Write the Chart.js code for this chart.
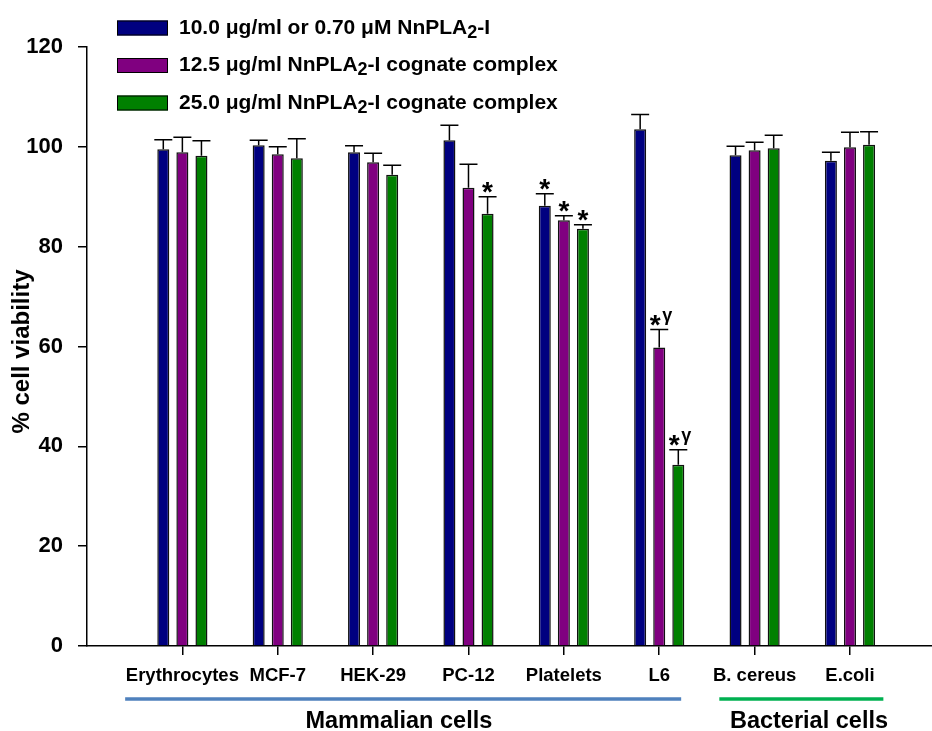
<!DOCTYPE html>
<html>
<head>
<meta charset="utf-8">
<script src="https://cdn.jsdelivr.net/npm/chart.js@4.4.1/dist/chart.umd.min.js"></script>
<style>
  html, body { margin: 0; padding: 0; background: #fff; }
  canvas { display: block; }
</style>
</head>
<body>
<canvas id="chart" width="932" height="731"></canvas>
<script>
// data
const categories = ['Erythrocytes', 'MCF-7', 'HEK-29', 'PC-12', 'Platelets', 'L6', 'B. cereus', 'E.coli'];
const seriesNames = [
  '10.0 μg/ml or 0.70 μM NnPLA₂-I',
  '12.5 μg/ml NnPLA₂-I cognate complex',
  '25.0 μg/ml NnPLA₂-I cognate complex'
];
const lowDose = [99.5, 100.3, 98.9, 101.3, 88.2, 103.5, 98.3, 97.2];
const lowDoseErr = [1.9, 1.0, 1.3, 3.0, 2.4, 3.0, 1.8, 1.7];
const midDose = [98.9, 98.5, 96.9, 91.8, 85.3, 59.8, 99.3, 99.9];
const midDoseErr = [3.0, 1.5, 1.8, 4.7, 0.9, 3.6, 1.6, 3.0];
const highDose = [98.2, 97.7, 94.4, 86.6, 83.6, 36.3, 99.7, 100.4];
const highDoseErr = [3.0, 3.9, 1.9, 3.4, 0.8, 3.0, 2.6, 2.6];
// significance marks
const lowDoseMarks = ['', '', '', '', '*', '', '', ''];
const midDoseMarks = ['', '', '', '', '*', '*γ', '', ''];
const highDoseMarks = ['', '', '', '*', '*', '*γ', '', ''];
const yTicks = [0, 20, 40, 60, 80, 100, 120];
const groupNames = ['Mammalian cells', 'Bacterial cells'];

const colors = ['#000080', '#800080', '#008000'];
const errs = [lowDoseErr, midDoseErr, highDoseErr];
const marks = [lowDoseMarks, midDoseMarks, highDoseMarks];
const FONT = '"Liberation Sans", Arial, sans-serif';

function toPoints(arr) {
  return arr.map(function(v, i) { return { x: i + 1, y: v }; });
}

// text with a subscript 2 (₂)
function drawRich(ctx, text, x, y, size) {
  const parts = text.split('₂');
  let cx = x;
  ctx.textAlign = 'left';
  ctx.textBaseline = 'middle';
  parts.forEach(function(p, i) {
    ctx.font = 'bold ' + size + 'px ' + FONT;
    ctx.fillText(p, cx, y);
    cx += ctx.measureText(p).width;
    if (i < parts.length - 1) {
      ctx.font = 'bold ' + Math.round(size * 0.85) + 'px ' + FONT;
      ctx.fillText('2', cx, y + 5);
      cx += ctx.measureText('2').width;
    }
  });
}

const extras = {
  id: 'extras',
  afterDatasetsDraw(chart) {
    const ctx = chart.ctx;
    const y = chart.scales.y;
    ctx.save();
    ctx.strokeStyle = '#000';
    ctx.fillStyle = '#000';
    ctx.lineWidth = 1.5;
    chart.data.datasets.forEach(function(ds, di) {
      const meta = chart.getDatasetMeta(di);
      meta.data.forEach(function(bar, j) {
        const v = ds.data[j].y;
        const top = y.getPixelForValue(v);
        const cap = y.getPixelForValue(v + errs[di][j]);
        ctx.beginPath();
        ctx.moveTo(bar.x, top);
        ctx.lineTo(bar.x, cap);
        ctx.moveTo(bar.x - 9, cap);
        ctx.lineTo(bar.x + 9, cap);
        ctx.stroke();
        const m = marks[di][j];
        if (m) {
          ctx.textAlign = 'center';
          ctx.textBaseline = 'alphabetic';
          ctx.font = 'bold 28px ' + FONT;
          if (m.length > 1) {
            ctx.fillText('*', bar.x - 4, cap + 4);
            ctx.textAlign = 'left';
            ctx.font = 'bold 18px ' + FONT;
            ctx.fillText(m.slice(1), bar.x + 3, cap - 9);
          } else {
            ctx.fillText('*', bar.x, cap + 4);
          }
        }
      });
    });
    ctx.restore();
  },
  afterDraw(chart) {
    const ctx = chart.ctx;
    const x = chart.scales.x;
    const area = chart.chartArea;
    ctx.save();
    // y axis title
    ctx.fillStyle = '#000';
    ctx.translate(22, (area.top + area.bottom) / 2 + 5);
    ctx.rotate(-Math.PI / 2);
    ctx.font = 'bold 24px ' + FONT;
    ctx.textAlign = 'center';
    ctx.textBaseline = 'middle';
    ctx.fillText('% cell viability', 0, 0);
    ctx.restore();

    // legend
    ctx.save();
    const rows = [28, 65.5, 103];
    seriesNames.forEach(function(name, i) {
      ctx.fillStyle = colors[i];
      ctx.fillRect(117, rows[i] - 7.5, 51, 15);
      ctx.strokeStyle = '#000';
      ctx.lineWidth = 1;
      ctx.strokeRect(117.5, rows[i] - 7, 50, 14);
      ctx.fillStyle = '#000';
      drawRich(ctx, name, 179, rows[i], 21);
    });
    ctx.restore();

    // cell group brackets
    ctx.save();
    const spans = [[0.40, 6.23], [6.63, 8.35]];
    const centers = [3.27, 7.57];
    const lineColors = ['#4f81bd', '#00b050'];
    groupNames.forEach(function(g, i) {
      ctx.strokeStyle = lineColors[i];
      ctx.lineWidth = 3.5;
      ctx.beginPath();
      ctx.moveTo(x.getPixelForValue(spans[i][0]), 699);
      ctx.lineTo(x.getPixelForValue(spans[i][1]), 699);
      ctx.stroke();
      ctx.fillStyle = '#000';
      ctx.font = 'bold 23.5px ' + FONT;
      ctx.textAlign = 'center';
      ctx.textBaseline = 'alphabetic';
      ctx.fillText(g, x.getPixelForValue(centers[i]), 728);
    });
    ctx.restore();
  }
};

new Chart(document.getElementById('chart'), {
  type: 'bar',
  data: {
    datasets: [
      { label: seriesNames[0], data: toPoints(lowDose), backgroundColor: colors[0] },
      { label: seriesNames[1], data: toPoints(midDose), backgroundColor: colors[1] },
      { label: seriesNames[2], data: toPoints(highDose), backgroundColor: colors[2] }
    ]
  },
  options: {
    responsive: false,
    animation: false,
    devicePixelRatio: 1,
    layout: { padding: { top: 47, right: 0, left: 0, bottom: 0 } },
    datasets: {
      bar: {
        borderColor: '#111',
        borderWidth: 1.5,
        categoryPercentage: 0.6,
        barPercentage: 0.63
      }
    },
    plugins: {
      legend: { display: false },
      tooltip: { enabled: false }
    },
    scales: {
      x: {
        type: 'linear',
        min: 0,
        max: 8.86,
        offset: false,
        afterBuildTicks: function(scale) {
          scale.ticks = categories.map(function(c, i) { return { value: i + 1 }; });
        },
        afterFit: function(scale) { scale.height = 85; },
        ticks: {
          callback: function(v) { return categories[v - 1]; },
          color: '#000',
          font: { family: FONT, size: 18.5, weight: 'bold' },
          padding: 10,
          maxRotation: 0,
          autoSkip: false
        },
        grid: { offset: false, drawOnChartArea: false, color: '#000', tickLength: 9, lineWidth: 1.5 },
        border: { color: '#000', width: 1.5 }
      },
      y: {
        min: 0,
        max: 120,
        afterBuildTicks: function(scale) {
          scale.ticks = yTicks.map(function(v) { return { value: v }; });
        },
        afterFit: function(scale) { scale.width = 87; },
        ticks: {
          color: '#000',
          font: { family: FONT, size: 22, weight: 'bold' },
          padding: 15
        },
        grid: { drawOnChartArea: false, color: '#000', tickLength: 9, lineWidth: 1.5 },
        border: { color: '#000', width: 1.5 }
      }
    }
  },
  plugins: [extras]
});
</script>
</body>
</html>
